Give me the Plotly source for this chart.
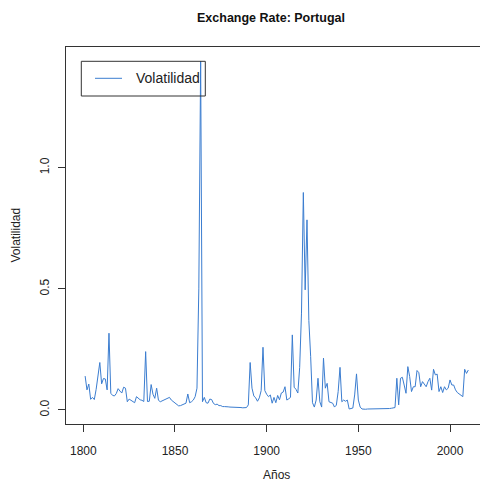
import plotly.graph_objects as go

# ---- data ----
years = list(range(1801, 2011))
volatilidad = [
    0.140, 0.083, 0.107, 0.044, 0.052, 0.043, 0.085, 0.135, 0.196, 0.108,   # 1801-1810
    0.130, 0.128, 0.083, 0.317, 0.069, 0.060, 0.058, 0.068, 0.088, 0.078,   # 1811-1820
    0.070, 0.094, 0.090, 0.034, 0.045, 0.040, 0.034, 0.030, 0.055, 0.048,   # 1821-1830
    0.042, 0.040, 0.035, 0.241, 0.035, 0.036, 0.105, 0.065, 0.048, 0.090,   # 1831-1840
    0.040, 0.034, 0.037, 0.041, 0.044, 0.048, 0.052, 0.041, 0.034, 0.030,   # 1841-1850
    0.021, 0.017, 0.018, 0.021, 0.024, 0.028, 0.066, 0.030, 0.034, 0.041,   # 1851-1860
    0.055, 0.090, 0.500, 1.440, 0.034, 0.052, 0.030, 0.028, 0.045, 0.043,   # 1861-1870
    0.027, 0.022, 0.024, 0.018, 0.018, 0.014, 0.014, 0.012, 0.013, 0.012,   # 1871-1880
    0.012, 0.013, 0.012, 0.011, 0.012, 0.010, 0.009, 0.008, 0.010, 0.021,   # 1881-1890
    0.196, 0.090, 0.058, 0.050, 0.036, 0.050, 0.080, 0.259, 0.080, 0.065,   # 1891-1900
    0.055, 0.062, 0.028, 0.052, 0.030, 0.060, 0.042, 0.070, 0.074, 0.096,   # 1901-1910
    0.041, 0.046, 0.052, 0.310, 0.094, 0.085, 0.070, 0.175, 0.400, 0.898,   # 1911-1920
    0.496, 0.785, 0.370, 0.220, 0.030, 0.012, 0.041, 0.131, 0.034, 0.012,   # 1921-1930
    0.214, 0.090, 0.110, 0.034, 0.030, 0.028, 0.012, 0.020, 0.076, 0.176,   # 1931-1940
    0.034, 0.041, 0.036, 0.041, 0.004, 0.006, 0.008, 0.062, 0.149, 0.041,   # 1941-1950
    0.012, 0.004, 0.002, 0.003, 0.004, 0.004, 0.005, 0.004, 0.006, 0.003,   # 1951-1960
    0.005, 0.004, 0.003, 0.005, 0.006, 0.004, 0.006, 0.007, 0.008, 0.010,   # 1961-1970
    0.131, 0.021, 0.131, 0.135, 0.103, 0.069, 0.179, 0.138, 0.076, 0.096,   # 1971-1980
    0.096, 0.163, 0.154, 0.096, 0.117, 0.107, 0.096, 0.117, 0.131, 0.082,   # 1981-1990
    0.168, 0.145, 0.148, 0.076, 0.096, 0.072, 0.096, 0.083, 0.090, 0.124,   # 1991-2000
    0.103, 0.103, 0.083, 0.072, 0.066, 0.062, 0.055, 0.168, 0.151, 0.165,   # 2001-2010
]
x_ticks = [1800, 1850, 1900, 1950, 2000]
y_ticks = [0.0, 0.5, 1.0]
y_tick_labels = ["0.0", "0.5", "1.0"]

title_text = "Exchange Rate: Portugal"
x_title = "Años"
y_title = "Volatilidad"
series_name = "Volatilidad"

LINE_COLOR = "#3b7dd0"
AXIS_COLOR = "#333333"
FONT = "Liberation Sans, Arial, sans-serif"

fig = go.Figure()
fig.add_trace(go.Scatter(
    x=years, y=volatilidad, mode="lines", name=series_name,
    line=dict(color=LINE_COLOR, width=1), showlegend=False,
))

fig.update_layout(
    width=480, height=483,
    margin=dict(l=66, r=0, t=47, b=59),
    paper_bgcolor="white", plot_bgcolor="white",
    font=dict(family=FONT, size=12, color="#222222"),
    title=dict(text="<b>" + title_text + "</b>", x=271 / 480, xanchor="center",
               xref="container", y=1 - 18 / 483, yanchor="middle", yref="container",
               font=dict(size=12.5, color="#111111")),
    xaxis=dict(range=[1790.56, 2016.36], showgrid=False, zeroline=False,
               showline=True, linecolor=AXIS_COLOR, linewidth=1, mirror=True,
               ticks="outside", ticklen=7, tickcolor=AXIS_COLOR,
               tickvals=x_ticks, ticklabelstandoff=9,
               tickfont=dict(size=12, color="#222222")),
    yaxis=dict(range=[-0.0579, 1.4988], showgrid=False, zeroline=False,
               showline=True, linecolor=AXIS_COLOR, linewidth=1, mirror=False,
               ticks="outside", ticklen=7, tickcolor=AXIS_COLOR,
               tickvals=y_ticks, ticktext=y_tick_labels, tickangle=-90,
               ticklabelstandoff=4,
               tickfont=dict(size=12, color="#222222")),
)

# axis titles
fig.add_annotation(text=x_title, xref="paper", yref="paper",
                   x=(276 - 66) / 414, y=-(475 - 424) / 377,
                   xanchor="center", yanchor="middle", showarrow=False,
                   font=dict(size=12, color="#222222"))
fig.add_annotation(text=y_title, xref="paper", yref="paper",
                   x=(15 - 66) / 414, y=0.5, textangle=-90,
                   xanchor="center", yanchor="middle", showarrow=False,
                   font=dict(size=12, color="#222222"))

# legend (R-style boxed legend)
def px_x(p):
    return (p - 66) / 414

def px_y(p):
    return 1 - (p - 47) / 377

fig.add_shape(type="rect", xref="paper", yref="paper",
              x0=px_x(81.3), x1=px_x(205.3), y0=px_y(96), y1=px_y(61.3),
              line=dict(color=AXIS_COLOR, width=1), fillcolor="rgba(0,0,0,0)")
fig.add_shape(type="line", xref="paper", yref="paper",
              x0=px_x(95), x1=px_x(122), y0=px_y(78.3), y1=px_y(78.3),
              line=dict(color=LINE_COLOR, width=1))
fig.add_annotation(text=series_name, xref="paper", yref="paper",
                   x=px_x(134), y=px_y(78.3), xanchor="left", yanchor="middle",
                   showarrow=False, font=dict(size=14, color="#222222"))

fig.write_html("out.html")
